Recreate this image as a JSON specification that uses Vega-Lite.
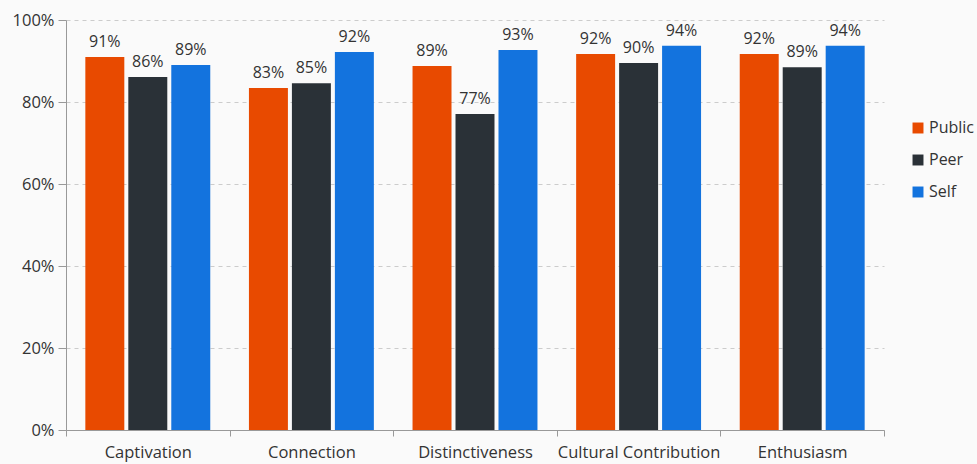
{
  "$schema": "https://vega.github.io/schema/vega-lite/v6.json",
  "width": 818,
  "height": 410,
  "autosize": "none",
  "padding": {"left": 66, "top": 20, "right": 93, "bottom": 34},
  "background": "#fafafa",
  "config": {
    "font": "Open Sans",
    "view": {"stroke": null},
    "axis": {"labelFont": "Open Sans", "labelFontSize": 16.5, "labelColor": "#333333", "domainColor": "#999999", "tickColor": "#999999"},
    "legend": {"labelFont": "Open Sans", "labelFontSize": 16, "labelColor": "#333333"}
  },
  "data": {
    "values": [
      {"category": "Captivation", "group": "Public", "value": 0.910},
      {"category": "Captivation", "group": "Peer", "value": 0.861},
      {"category": "Captivation", "group": "Self", "value": 0.890},
      {"category": "Connection", "group": "Public", "value": 0.834},
      {"category": "Connection", "group": "Peer", "value": 0.846},
      {"category": "Connection", "group": "Self", "value": 0.922},
      {"category": "Distinctiveness", "group": "Public", "value": 0.888},
      {"category": "Distinctiveness", "group": "Peer", "value": 0.771},
      {"category": "Distinctiveness", "group": "Self", "value": 0.927},
      {"category": "Cultural Contribution", "group": "Public", "value": 0.917},
      {"category": "Cultural Contribution", "group": "Peer", "value": 0.895},
      {"category": "Cultural Contribution", "group": "Self", "value": 0.937},
      {"category": "Enthusiasm", "group": "Public", "value": 0.917},
      {"category": "Enthusiasm", "group": "Peer", "value": 0.885},
      {"category": "Enthusiasm", "group": "Self", "value": 0.937}
    ]
  },
  "encoding": {
    "x": {
      "field": "category", "type": "nominal", "sort": null, "title": null,
      "scale": {"paddingInner": 0, "paddingOuter": 0},
      "axis": {"labelAngle": 0, "tickBand": "extent", "tickSize": 6, "labelPadding": 8, "grid": false}
    },
    "xOffset": {
      "field": "group", "type": "nominal", "sort": ["Public", "Peer", "Self"],
      "scale": {"paddingInner": 0.093, "paddingOuter": 0.45}
    },
    "y": {
      "field": "value", "type": "quantitative", "title": null,
      "scale": {"domain": [0, 1], "nice": false},
      "axis": {
        "values": [0, 0.2, 0.4, 0.6, 0.8, 1],
        "format": ".0%",
        "grid": true, "gridDash": [4, 4], "gridColor": "#cccccc",
        "tickSize": 8, "labelPadding": 4
      }
    }
  },
  "layer": [
    {
      "mark": {"type": "bar"},
      "encoding": {
        "color": {
          "field": "group", "type": "nominal", "sort": ["Public", "Peer", "Self"],
          "scale": {"domain": ["Public", "Peer", "Self"], "range": ["#e84a00", "#2a3137", "#1373de"]},
          "legend": {"title": null, "symbolType": "square", "symbolSize": 120, "orient": "none", "legendX": 844, "legendY": 100, "rowPadding": 16, "labelOffset": 3}
        }
      }
    },
    {
      "mark": {"type": "text", "dy": -15, "fontSize": 16, "color": "#333333", "font": "Open Sans"},
      "encoding": {
        "text": {"field": "value", "type": "quantitative", "format": ".0%"},
        "detail": {"field": "group"}
      }
    }
  ]
}
